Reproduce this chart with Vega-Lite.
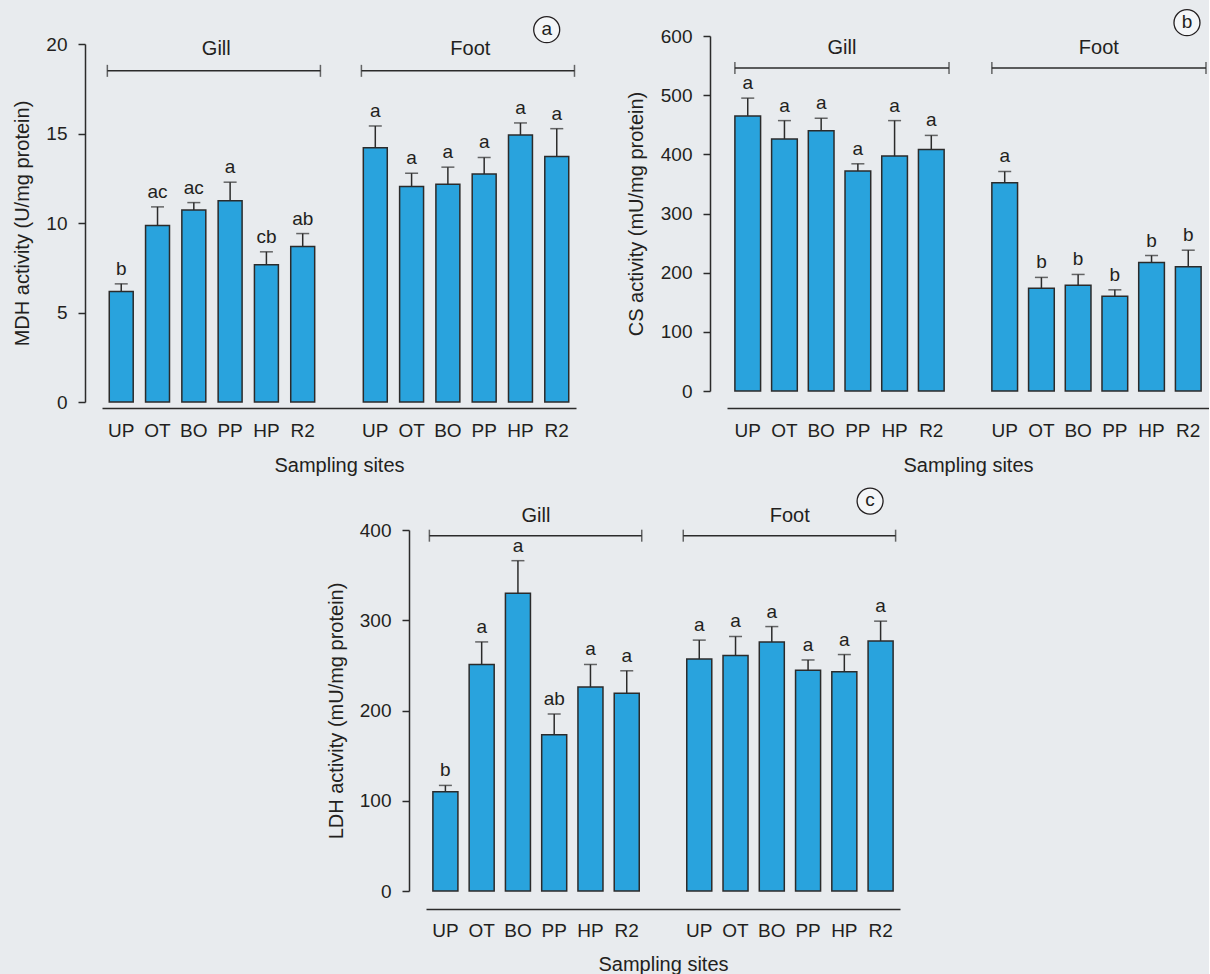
{
  "$schema": "https://vega.github.io/schema/vega-lite/v6.json",
  "padding": {"left": 12, "top": 7, "right": 0, "bottom": 0},
  "background": "#e8ebee",
  "config": {
    "font": "Liberation Sans",
    "view": {"stroke": null},
    "axis": {
      "labelFont": "Liberation Sans", "titleFont": "Liberation Sans",
      "labelFontSize": 19, "titleFontSize": 20, "titleFontWeight": "normal",
      "labelColor": "#231f20", "titleColor": "#231f20",
      "domainColor": "#2b2b2b", "domainWidth": 1.5,
      "tickColor": "#2b2b2b", "tickWidth": 1.5, "grid": false
    },
    "text": {"font": "Liberation Sans", "fontSize": 19, "color": "#231f20"}
  },
  "datasets": {
    "enz": [
      {"enzyme": "MDH", "tissue": "Gill", "site": "UP", "key": "Gill UP", "mean": 6.18, "upper": 6.6, "letter": "b"},
      {"enzyme": "MDH", "tissue": "Gill", "site": "OT", "key": "Gill OT", "mean": 9.86, "upper": 10.9, "letter": "ac"},
      {"enzyme": "MDH", "tissue": "Gill", "site": "BO", "key": "Gill BO", "mean": 10.72, "upper": 11.14, "letter": "ac"},
      {"enzyme": "MDH", "tissue": "Gill", "site": "PP", "key": "Gill PP", "mean": 11.24, "upper": 12.28, "letter": "a"},
      {"enzyme": "MDH", "tissue": "Gill", "site": "HP", "key": "Gill HP", "mean": 7.67, "upper": 8.39, "letter": "cb"},
      {"enzyme": "MDH", "tissue": "Gill", "site": "R2", "key": "Gill R2", "mean": 8.69, "upper": 9.41, "letter": "ab"},
      {"enzyme": "MDH", "tissue": "Foot", "site": "UP", "key": "Foot UP", "mean": 14.21, "upper": 15.42, "letter": "a"},
      {"enzyme": "MDH", "tissue": "Foot", "site": "OT", "key": "Foot OT", "mean": 12.04, "upper": 12.78, "letter": "a"},
      {"enzyme": "MDH", "tissue": "Foot", "site": "BO", "key": "Foot BO", "mean": 12.17, "upper": 13.12, "letter": "a"},
      {"enzyme": "MDH", "tissue": "Foot", "site": "PP", "key": "Foot PP", "mean": 12.74, "upper": 13.66, "letter": "a"},
      {"enzyme": "MDH", "tissue": "Foot", "site": "HP", "key": "Foot HP", "mean": 14.92, "upper": 15.59, "letter": "a"},
      {"enzyme": "MDH", "tissue": "Foot", "site": "R2", "key": "Foot R2", "mean": 13.71, "upper": 15.27, "letter": "a"},
      {"enzyme": "CS", "tissue": "Gill", "site": "UP", "key": "Gill UP", "mean": 465, "upper": 495, "letter": "a"},
      {"enzyme": "CS", "tissue": "Gill", "site": "OT", "key": "Gill OT", "mean": 426, "upper": 457, "letter": "a"},
      {"enzyme": "CS", "tissue": "Gill", "site": "BO", "key": "Gill BO", "mean": 440, "upper": 461, "letter": "a"},
      {"enzyme": "CS", "tissue": "Gill", "site": "PP", "key": "Gill PP", "mean": 372, "upper": 384, "letter": "a"},
      {"enzyme": "CS", "tissue": "Gill", "site": "HP", "key": "Gill HP", "mean": 397, "upper": 457, "letter": "a"},
      {"enzyme": "CS", "tissue": "Gill", "site": "R2", "key": "Gill R2", "mean": 408, "upper": 432, "letter": "a"},
      {"enzyme": "CS", "tissue": "Foot", "site": "UP", "key": "Foot UP", "mean": 352, "upper": 371, "letter": "a"},
      {"enzyme": "CS", "tissue": "Foot", "site": "OT", "key": "Foot OT", "mean": 173.5, "upper": 192, "letter": "b"},
      {"enzyme": "CS", "tissue": "Foot", "site": "BO", "key": "Foot BO", "mean": 178.6, "upper": 197, "letter": "b"},
      {"enzyme": "CS", "tissue": "Foot", "site": "PP", "key": "Foot PP", "mean": 160, "upper": 171, "letter": "b"},
      {"enzyme": "CS", "tissue": "Foot", "site": "HP", "key": "Foot HP", "mean": 217, "upper": 229, "letter": "b"},
      {"enzyme": "CS", "tissue": "Foot", "site": "R2", "key": "Foot R2", "mean": 210, "upper": 238, "letter": "b"},
      {"enzyme": "LDH", "tissue": "Gill", "site": "UP", "key": "Gill UP", "mean": 110, "upper": 117, "letter": "b"},
      {"enzyme": "LDH", "tissue": "Gill", "site": "OT", "key": "Gill OT", "mean": 251, "upper": 276, "letter": "a"},
      {"enzyme": "LDH", "tissue": "Gill", "site": "BO", "key": "Gill BO", "mean": 330, "upper": 366, "letter": "a"},
      {"enzyme": "LDH", "tissue": "Gill", "site": "PP", "key": "Gill PP", "mean": 173, "upper": 196, "letter": "ab"},
      {"enzyme": "LDH", "tissue": "Gill", "site": "HP", "key": "Gill HP", "mean": 226, "upper": 251, "letter": "a"},
      {"enzyme": "LDH", "tissue": "Gill", "site": "R2", "key": "Gill R2", "mean": 219, "upper": 244, "letter": "a"},
      {"enzyme": "LDH", "tissue": "Foot", "site": "UP", "key": "Foot UP", "mean": 257, "upper": 278, "letter": "a"},
      {"enzyme": "LDH", "tissue": "Foot", "site": "OT", "key": "Foot OT", "mean": 261, "upper": 282, "letter": "a"},
      {"enzyme": "LDH", "tissue": "Foot", "site": "BO", "key": "Foot BO", "mean": 276, "upper": 293, "letter": "a"},
      {"enzyme": "LDH", "tissue": "Foot", "site": "PP", "key": "Foot PP", "mean": 244.5, "upper": 256, "letter": "a"},
      {"enzyme": "LDH", "tissue": "Foot", "site": "HP", "key": "Foot HP", "mean": 243, "upper": 262, "letter": "a"},
      {"enzyme": "LDH", "tissue": "Foot", "site": "R2", "key": "Foot R2", "mean": 277, "upper": 299, "letter": "a"}
    ],
    "brk": [
      {"tissue": "Gill", "from": "Gill UP", "to": "Gill R2"},
      {"tissue": "Foot", "from": "Foot UP", "to": "Foot R2"}
    ]
  },
  "spacing": 10,
  "vconcat": [
    {
      "spacing": 50,
      "hconcat": [
        {
          "width": 474, "height": 366,
          "layer": [
            {
              "data": {"name": "enz"},
              "transform": [{"filter": "datum.enzyme === 'MDH'"}],
              "layer": [
                {
                  "mark": {"type": "bar", "fill": "#29a3dd", "stroke": "#2b2b2b", "strokeWidth": 1.5},
                  "encoding": {
                    "x": {"field": "key", "type": "nominal", "sort": null,
                      "scale": {"domain": ["Gill UP","Gill OT","Gill BO","Gill PP","Gill HP","Gill R2","gap","Foot UP","Foot OT","Foot BO","Foot PP","Foot HP","Foot R2"], "paddingInner": 0.34, "paddingOuter": 0.2},
                      "axis": {"title": "Sampling sites", "offset": 6, "ticks": false, "labelAngle": 0, "labelPadding": 13, "titlePadding": 15, "labelExpr": "slice(datum.value, 5)", "labelOverlap": false}},
                    "y": {"field": "mean", "type": "quantitative",
                      "scale": {"domain": [0, 20], "range": [366, 8], "nice": false, "zero": true},
                      "axis": {"title": "MDH activity (U/mg protein)", "offset": 17, "values": [0, 5, 10, 15, 20], "tickSize": 7, "labelPadding": 11, "titlePadding": 13}}
                  }
                },
                {
                  "mark": {"type": "rule", "color": "#2b2b2b", "strokeWidth": 1.5},
                  "encoding": {"x": {"field": "key", "type": "nominal"}, "y": {"field": "mean", "type": "quantitative"}, "y2": {"field": "upper"}}
                },
                {
                  "mark": {"type": "tick", "orient": "horizontal", "size": 13, "thickness": 1.5, "color": "#2b2b2b"},
                  "encoding": {"x": {"field": "key", "type": "nominal"}, "y": {"field": "upper", "type": "quantitative"}}
                },
                {
                  "mark": {"type": "text", "dy": -9, "baseline": "alphabetic"},
                  "encoding": {"x": {"field": "key", "type": "nominal"}, "y": {"field": "upper", "type": "quantitative"}, "text": {"field": "letter"}}
                }
              ]
            },
            {
              "data": {"name": "brk"},
              "layer": [
                {
                  "mark": {"type": "rule", "color": "#2b2b2b", "strokeWidth": 1.5},
                  "encoding": {"x": {"field": "from", "type": "nominal", "bandPosition": -0.08}, "x2": {"field": "to", "bandPosition": 1.24}, "y": {"datum": 18.5}}
                },
                {
                  "mark": {"type": "tick", "orient": "vertical", "size": 12, "thickness": 1.5, "color": "#2b2b2b"},
                  "encoding": {"x": {"field": "from", "type": "nominal", "bandPosition": -0.08}, "y": {"datum": 18.5}}
                },
                {
                  "mark": {"type": "tick", "orient": "vertical", "size": 12, "thickness": 1.5, "color": "#2b2b2b"},
                  "encoding": {"x": {"field": "to", "type": "nominal", "bandPosition": 1.24}, "y": {"datum": 18.5}}
                },
                {
                  "mark": {"type": "text", "dx": 107, "baseline": "middle", "fontSize": 20},
                  "encoding": {"x": {"field": "from", "type": "nominal", "bandPosition": 0}, "y": {"datum": 19.72}, "text": {"field": "tissue"}}
                }
              ]
            },
            {
              "data": {"values": [{"panel": "a"}]},
              "layer": [
                {
                  "mark": {"type": "point", "shape": "circle", "filled": true, "fill": "#f4f6f8", "stroke": "#231f20", "strokeWidth": 1.3, "size": 676, "opacity": 1},
                  "encoding": {"x": {"datum": "Foot R2", "bandPosition": 0.08}, "y": {"datum": 20.8}}
                },
                {
                  "mark": {"type": "text", "baseline": "middle", "dy": -1},
                  "encoding": {"x": {"datum": "Foot R2", "bandPosition": 0.08}, "y": {"datum": 20.8}, "text": {"field": "panel"}}
                }
              ]
            }
          ]
        },
        {
          "width": 482, "height": 355,
          "layer": [
            {
              "data": {"name": "enz"},
              "transform": [{"filter": "datum.enzyme === 'CS'"}],
              "layer": [
                {
                  "mark": {"type": "bar", "fill": "#29a3dd", "stroke": "#2b2b2b", "strokeWidth": 1.5},
                  "encoding": {
                    "x": {"field": "key", "type": "nominal", "sort": null,
                      "scale": {"domain": ["Gill UP","Gill OT","Gill BO","Gill PP","Gill HP","Gill R2","gap","Foot UP","Foot OT","Foot BO","Foot PP","Foot HP","Foot R2"], "paddingInner": 0.3, "paddingOuter": 0.215},
                      "axis": {"title": "Sampling sites", "offset": 17, "ticks": false, "labelAngle": 0, "labelPadding": 13, "titlePadding": 15, "labelExpr": "slice(datum.value, 5)", "labelOverlap": false}},
                    "y": {"field": "mean", "type": "quantitative",
                      "scale": {"domain": [0, 600], "nice": false, "zero": true},
                      "axis": {"title": "CS activity (mU/mg protein)", "offset": 17, "values": [0, 100, 200, 300, 400, 500, 600], "tickSize": 7, "labelPadding": 11, "titlePadding": 14}}
                  }
                },
                {
                  "mark": {"type": "rule", "color": "#2b2b2b", "strokeWidth": 1.5},
                  "encoding": {"x": {"field": "key", "type": "nominal"}, "y": {"field": "mean", "type": "quantitative"}, "y2": {"field": "upper"}}
                },
                {
                  "mark": {"type": "tick", "orient": "horizontal", "size": 13, "thickness": 1.5, "color": "#2b2b2b"},
                  "encoding": {"x": {"field": "key", "type": "nominal"}, "y": {"field": "upper", "type": "quantitative"}}
                },
                {
                  "mark": {"type": "text", "dy": -9, "baseline": "alphabetic"},
                  "encoding": {"x": {"field": "key", "type": "nominal"}, "y": {"field": "upper", "type": "quantitative"}, "text": {"field": "letter"}}
                }
              ]
            },
            {
              "data": {"name": "brk"},
              "layer": [
                {
                  "mark": {"type": "rule", "color": "#2b2b2b", "strokeWidth": 1.5},
                  "encoding": {"x": {"field": "from", "type": "nominal", "bandPosition": 0}, "x2": {"field": "to", "bandPosition": 1.19}, "y": {"datum": 546}}
                },
                {
                  "mark": {"type": "tick", "orient": "vertical", "size": 12, "thickness": 1.5, "color": "#2b2b2b"},
                  "encoding": {"x": {"field": "from", "type": "nominal", "bandPosition": 0}, "y": {"datum": 546}}
                },
                {
                  "mark": {"type": "tick", "orient": "vertical", "size": 12, "thickness": 1.5, "color": "#2b2b2b"},
                  "encoding": {"x": {"field": "to", "type": "nominal", "bandPosition": 1.19}, "y": {"datum": 546}}
                },
                {
                  "mark": {"type": "text", "dx": 107, "baseline": "middle", "fontSize": 20},
                  "encoding": {"x": {"field": "from", "type": "nominal", "bandPosition": 0}, "y": {"datum": 580}, "text": {"field": "tissue"}}
                }
              ]
            },
            {
              "data": {"values": [{"panel": "b"}]},
              "layer": [
                {
                  "mark": {"type": "point", "shape": "circle", "filled": true, "fill": "#f4f6f8", "stroke": "#231f20", "strokeWidth": 1.3, "size": 676, "opacity": 1},
                  "encoding": {"x": {"datum": "Foot R2", "bandPosition": 0.45}, "y": {"datum": 622.5}}
                },
                {
                  "mark": {"type": "text", "baseline": "middle", "dy": -1},
                  "encoding": {"x": {"datum": "Foot R2", "bandPosition": 0.45}, "y": {"datum": 622.5}, "text": {"field": "panel"}}
                }
              ]
            }
          ]
        }
      ]
    },
    {
      "spacing": 0,
      "hconcat": [
        {
          "width": 224, "height": 20,
          "data": {"values": [{"t": ""}]},
          "mark": {"type": "text", "opacity": 0},
          "encoding": {"text": {"field": "t"}}
        },
        {
          "width": 474, "height": 361,
          "layer": [
            {
              "data": {"name": "enz"},
              "transform": [{"filter": "datum.enzyme === 'LDH'"}],
              "layer": [
                {
                  "mark": {"type": "bar", "fill": "#29a3dd", "stroke": "#2b2b2b", "strokeWidth": 1.5},
                  "encoding": {
                    "x": {"field": "key", "type": "nominal", "sort": null,
                      "scale": {"domain": ["Gill UP","Gill OT","Gill BO","Gill PP","Gill HP","Gill R2","gap","Foot UP","Foot OT","Foot BO","Foot PP","Foot HP","Foot R2"], "paddingInner": 0.31, "paddingOuter": 0.19},
                      "axis": {"title": "Sampling sites", "offset": 18, "ticks": false, "labelAngle": 0, "labelPadding": 12, "titlePadding": 14, "labelExpr": "slice(datum.value, 5)", "labelOverlap": false}},
                    "y": {"field": "mean", "type": "quantitative",
                      "scale": {"domain": [0, 400], "nice": false, "zero": true},
                      "axis": {"title": "LDH activity (mU/mg protein)", "offset": 17, "values": [0, 100, 200, 300, 400], "tickSize": 7, "labelPadding": 11, "titlePadding": 13}}
                  }
                },
                {
                  "mark": {"type": "rule", "color": "#2b2b2b", "strokeWidth": 1.5},
                  "encoding": {"x": {"field": "key", "type": "nominal"}, "y": {"field": "mean", "type": "quantitative"}, "y2": {"field": "upper"}}
                },
                {
                  "mark": {"type": "tick", "orient": "horizontal", "size": 13, "thickness": 1.5, "color": "#2b2b2b"},
                  "encoding": {"x": {"field": "key", "type": "nominal"}, "y": {"field": "upper", "type": "quantitative"}}
                },
                {
                  "mark": {"type": "text", "dy": -9, "baseline": "alphabetic"},
                  "encoding": {"x": {"field": "key", "type": "nominal"}, "y": {"field": "upper", "type": "quantitative"}, "text": {"field": "letter"}}
                }
              ]
            },
            {
              "data": {"name": "brk"},
              "layer": [
                {
                  "mark": {"type": "rule", "color": "#2b2b2b", "strokeWidth": 1.5},
                  "encoding": {"x": {"field": "from", "type": "nominal", "bandPosition": -0.14}, "x2": {"field": "to", "bandPosition": 1.1}, "y": {"datum": 393.7}}
                },
                {
                  "mark": {"type": "tick", "orient": "vertical", "size": 12, "thickness": 1.5, "color": "#2b2b2b"},
                  "encoding": {"x": {"field": "from", "type": "nominal", "bandPosition": -0.14}, "y": {"datum": 393.7}}
                },
                {
                  "mark": {"type": "tick", "orient": "vertical", "size": 12, "thickness": 1.5, "color": "#2b2b2b"},
                  "encoding": {"x": {"field": "to", "type": "nominal", "bandPosition": 1.1}, "y": {"datum": 393.7}}
                },
                {
                  "mark": {"type": "text", "dx": 103, "baseline": "middle", "fontSize": 20},
                  "encoding": {"x": {"field": "from", "type": "nominal", "bandPosition": 0}, "y": {"datum": 416}, "text": {"field": "tissue"}}
                }
              ]
            },
            {
              "data": {"values": [{"panel": "c"}]},
              "layer": [
                {
                  "mark": {"type": "point", "shape": "circle", "filled": true, "fill": "#f4f6f8", "stroke": "#231f20", "strokeWidth": 1.3, "size": 676, "opacity": 1},
                  "encoding": {"x": {"datum": "Foot R2", "bandPosition": 0.08}, "y": {"datum": 432}}
                },
                {
                  "mark": {"type": "text", "baseline": "middle", "dy": -1},
                  "encoding": {"x": {"datum": "Foot R2", "bandPosition": 0.08}, "y": {"datum": 432}, "text": {"field": "panel"}}
                }
              ]
            }
          ]
        }
      ]
    }
  ]
}
